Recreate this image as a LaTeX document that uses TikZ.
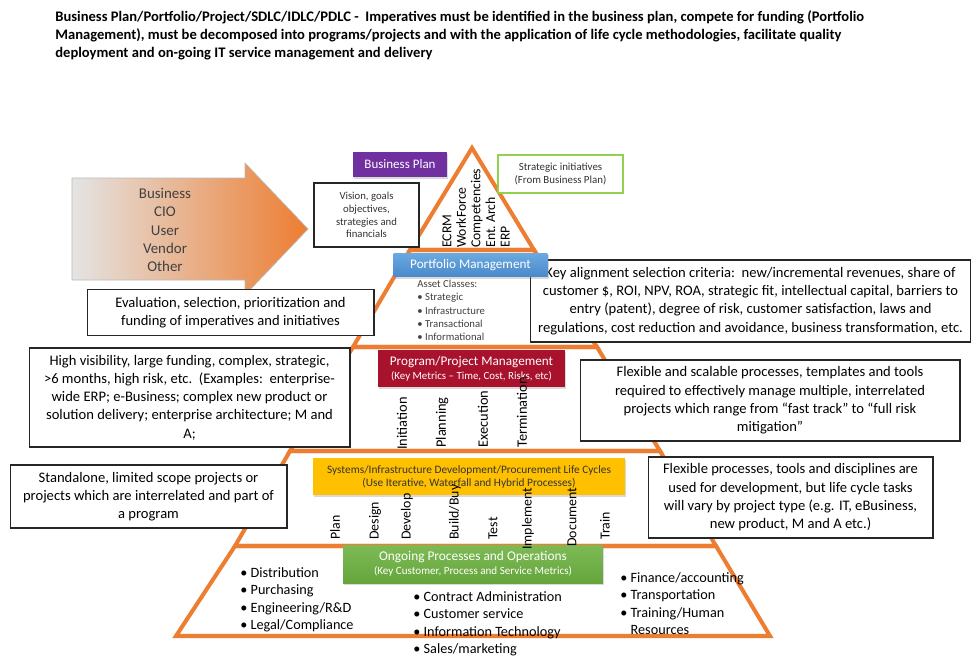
\documentclass[tikz,border=0pt]{standalone}
\usepackage{fontspec}
\setmainfont{Carlito}
\usepackage{tikz}
\usetikzlibrary{positioning,shadows}
\definecolor{pyrorange}{HTML}{ED7D31}
\definecolor{bplanpurple}{HTML}{7030A0}
\definecolor{portbluetop}{HTML}{6AAAE0}
\definecolor{portblue}{HTML}{4A88CB}
\definecolor{progred}{HTML}{A8122C}
\definecolor{sysyellow}{HTML}{FFC000}
\definecolor{opsgreentop}{HTML}{7DBA55}
\definecolor{opsgreen}{HTML}{66A53C}
\definecolor{stratgreen}{HTML}{92D050}
\definecolor{arrowgray}{HTML}{E4E4E4}
\newcommand{\fs}[2]{\fontsize{#1}{#2}\selectfont}
\tikzset{
  notebox/.style={draw=black!85,line width=0.6pt,fill=white,align=center,inner sep=0pt,
    font=\fs{8.3}{10.4}},
  smallbox/.style={notebox,font=\fs{6.1}{7.2},text=black!80},
  colbox/.style={align=center,inner sep=0pt,text=white,
    drop shadow={opacity=0.3,shadow xshift=0.8pt,shadow yshift=-1pt}},
  layer/.style={draw=pyrorange,line width=2.3pt,line join=miter},
  phase/.style={rotate=90,anchor=west,inner sep=0pt}
}

\begin{document}
\begin{tikzpicture}[x=0.02cm,y=-0.02cm]
      \useasboundingbox (0,0) rectangle (972,655);
      %% \draw[help lines,step=50] (0,0) grid (972,655);
      \node[anchor=north west,align=left,inner sep=0pt,font=\bfseries\fs{8.3}{10.2}] (title) at (55,10)
        {Business Plan/Portfolio/Project/SDLC/IDLC/PDLC -\ \ Imperatives must be identified in the business plan, compete for funding (Portfolio\\
         Management), must be decomposed into programs/projects and with the application of life cycle methodologies, facilitate quality\\
         deployment and on-going IT service management and delivery};
      % big arrow
      \shadedraw[draw=gray!55,line width=0.4pt,left color=arrowgray,middle color=pyrorange!55,right color=pyrorange]
        (72,178) -- (245,178) -- (245,163) -- (308,229) -- (245,295) -- (245,280) -- (72,280) -- cycle;
      \node[align=center,font=\fs{8.5}{10.5},text=black!75] (sources) at (165,230) {Business\\CIO\\User\\Vendor\\Other};
      % pyramid
      \draw [layer] (472,148) -- (410,250) -- (534,250) -- cycle;
      \draw [layer] (410,250) -- (534,250) -- (597,347) -- (353,347) -- cycle;
      \draw [layer] (353,347) -- (597,347) -- (660,451) -- (290,451) -- cycle;
      \draw [layer] (290,451) -- (660,451) -- (716,546) -- (235,546) -- cycle;
      \draw [layer] (235,546) -- (716,546) -- (770,636) -- (176,636) -- cycle;
      % top
      \node[colbox,fill=bplanpurple,minimum width=1.88cm,minimum height=0.5cm,font=\fs{7.4}{8},drop shadow={opacity=0}] (bplan) at (400,164.5) {Business Plan};
      \node[smallbox,minimum width=2.1cm,minimum height=1.28cm] (vision) at (366.5,215) {Vision, goals\\objectives,\\strategies and\\financials};
      \node[smallbox,draw=stratgreen,font=\fs{6.2}{7.4},minimum width=2.5cm,minimum height=0.76cm] (strat) at (560.5,174) {Strategic initiatives\\(From Business Plan)};
      \node[rotate=90,anchor=north west,align=left,inner sep=0pt,font=\fs{7.8}{8.3}] (enablers) at (442,248)
        {ECRM\\WorkForce\\Competencies\\Ent.\ Arch\\ERP};
      % portfolio
      \node[notebox,minimum width=8.8cm,minimum height=1.64cm] (keyalign) at (750.5,301)
        {Key alignment selection criteria:\ \ new/incremental revenues, share of\\
         customer \$, ROI, NPV, ROA, strategic fit, intellectual capital, barriers to\\
         entry (patent), degree of risk, customer satisfaction, laws and\\
         regulations, cost reduction and avoidance, business transformation, etc.};
      \node[colbox,top color=portbluetop,bottom color=portblue,minimum width=3.08cm,minimum height=0.48cm,font=\fs{7.5}{8}] (portfolio) at (470.5,265) {Portfolio Management};
      \node[anchor=north west,align=left,inner sep=0pt,text=black!75,font=\fs{6.1}{7.5}] (assets) at (417,280)
        {Asset Classes:\\• Strategic\\• Infrastructure\\• Transactional\\• Informational};
      \node[notebox,minimum width=5.74cm,minimum height=0.92cm] (evaluation) at (230.5,312.5)
        {Evaluation, selection, prioritization and\\funding of imperatives and initiatives};
      % program/project
      \node[notebox,minimum width=6.42cm,minimum height=1.98cm] (highvis) at (189.5,397.5)
        {High visibility, large funding, complex, strategic,\\
         >6 months, high risk, etc.\ \ (Examples:\ \ enterprise-\\
         wide ERP; e-Business; complex new product or\\
         solution delivery; enterprise architecture; M and\\
         A;};
      \node[colbox,fill=progred,minimum width=3.74cm,minimum height=0.74cm,font=\fs{7.5}{8}] (progmgmt) at (471.5,368.5)
        {Program/Project Management\\{\fs{6.2}{7}(Key Metrics – Time, Cost, Risks, etc)}};
      \node[notebox,minimum width=7.6cm,minimum height=1.62cm] (flexscal) at (770,400.5)
        {Flexible and scalable processes, templates and tools\\
         required to effectively manage multiple, interrelated\\
         projects which range from “fast track” to “full risk\\
         mitigation”};
      % life cycles
      \node[notebox,minimum width=5.54cm,minimum height=1.26cm] (standalone) at (148.5,496.5)
        {Standalone, limited scope projects or\\projects which are interrelated and part of\\a program};
      \node[colbox,fill=sysyellow,text=black!80,minimum width=6.24cm,minimum height=0.74cm,font=\fs{6.45}{7.4}] (syslc) at (469,476.5)
        {Systems/Infrastructure Development/Procurement Life Cycles\\(Use Iterative, Waterfall and Hybrid Processes)};
      \node[notebox,minimum width=5.7cm,minimum height=1.62cm] (flexproc) at (790.5,497.5)
        {Flexible processes, tools and disciplines are\\
         used for development, but life cycle tasks\\
         will vary by project type (e.g. IT, eBusiness,\\
         new product, M and A etc.)};
      % operations
      \node[colbox,top color=opsgreentop,bottom color=opsgreen,minimum width=5.2cm,minimum height=0.76cm,font=\fs{7.6}{8}] (ongoing) at (473,564)
        {Ongoing Processes and Operations\\{\fs{6.3}{7}(Key Customer, Process and Service Metrics)}};
      \node[anchor=north west,align=left,inner sep=0pt,font=\fs{8.1}{10}] (opsleft) at (240,567)
        {• Distribution\\• Purchasing\\• Engineering/R\&D\\• Legal/Compliance};
      \node[anchor=north west,align=left,inner sep=0pt,font=\fs{8.1}{10}] (opsmid) at (413,591)
        {• Contract Administration\\• Customer service\\• Information Technology\\• Sales/marketing};
      \node[anchor=north west,align=left,inner sep=0pt,font=\fs{8.1}{10}] (opsright) at (620,572)
        {• Finance/accounting\\• Transportation\\• Training/Human\\\phantom{• }Resources};
      % phase labels
      \foreach \xx/\yy/\word [count=\i] in {402/450/Initiation,442/448/Planning,483/448/Execution,522/448/Termination}
        \node[phase,font=\fs{8.2}{9}] (pm\i) at (\xx,\yy) {\word};
      \foreach \xx/\yy/\word [count=\i] in {335/540/Plan,375/540/Design,407/540/Develop,455/540/{Build/Buy},
          493/540/Test,528/550/Implement,572/547/Document,605/540/Train}
        \node[phase,font=\fs{7.9}{9}] (lc\i) at (\xx,\yy) {\word};
\end{tikzpicture}
\end{document}
